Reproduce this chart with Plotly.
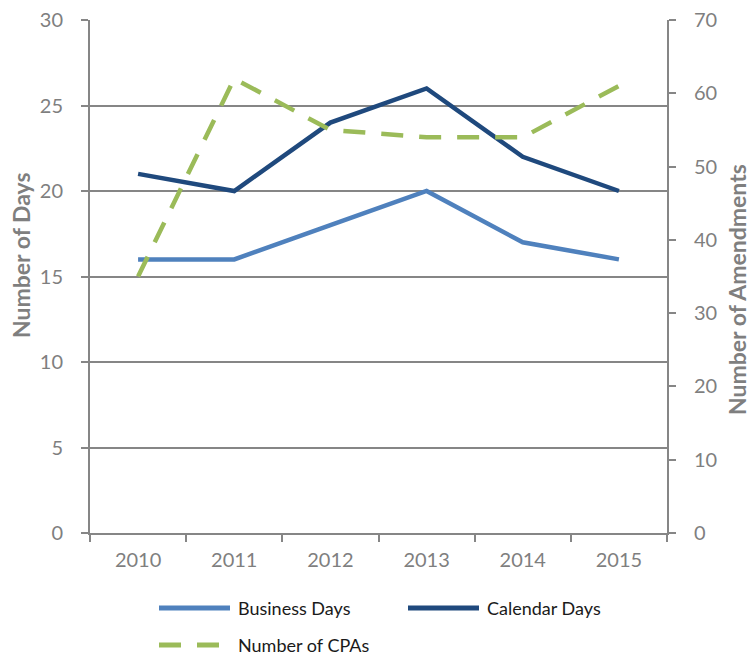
import plotly.graph_objects as go

years = ["2010", "2011", "2012", "2013", "2014", "2015"]
business_days = [16, 16, 18, 20, 17, 16]
calendar_days = [21, 20, 24, 26, 22, 20]
number_of_cpas = [35, 62, 55, 54, 54, 61]

FONT = "Lato, 'Open Sans', sans-serif"
GREY = "#868686"
TICK_GREY = "#7f7f7f"

W, H = 754, 658
L, R, T, B = 90, 87, 20, 125
PW, PH = W - L - R, H - T - B


def px_x(x):
    return (x - L) / PW


def px_y(y):
    return (H - B - y) / PH


series = [
    dict(name="Business Days", y=business_days, color="#4F81BD", dash="solid", axis="y"),
    dict(name="Calendar Days", y=calendar_days, color="#1F497D", dash="solid", axis="y"),
    dict(name="Number of CPAs", y=number_of_cpas, color="#9BBB59", dash="22px,16px", axis="y2"),
]

fig = go.Figure()
for s in series:
    fig.add_trace(go.Scatter(
        x=years, y=s["y"], name=s["name"], mode="lines", yaxis=s["axis"],
        line=dict(color=s["color"], width=4.5, dash=s["dash"]),
        showlegend=False,
    ))

# legend laid out as in the report: two per row, long line samples
legend_slots = [(159, 608), (408, 608), (159, 645)]
shapes, annotations = [], []
for s, (lx, ly) in zip(series, legend_slots):
    shapes.append(dict(
        type="line", xref="paper", yref="paper",
        x0=px_x(lx), x1=px_x(lx + 71), y0=px_y(ly), y1=px_y(ly),
        line=dict(color=s["color"], width=5, dash=s["dash"]),
    ))
    annotations.append(dict(
        text=s["name"], xref="paper", yref="paper",
        x=px_x(lx + 77), y=px_y(ly), xanchor="left", yanchor="middle",
        showarrow=False, font=dict(family=FONT, size=18, color="#1a1a1a"),
    ))

annotations += [
    dict(text="<b>Number of Days</b>", xref="paper", yref="paper",
         x=px_x(21), y=px_y(255), xanchor="center", yanchor="middle", textangle=-90,
         showarrow=False, font=dict(family=FONT, size=23, color=TICK_GREY)),
    dict(text="<b>Number of Amendments</b>", xref="paper", yref="paper",
         x=px_x(737), y=px_y(290), xanchor="center", yanchor="middle", textangle=-90,
         showarrow=False, font=dict(family=FONT, size=23, color=TICK_GREY)),
]

fig.update_layout(
    width=W, height=H,
    margin=dict(l=L, r=R, t=T, b=B, autoexpand=False),
    paper_bgcolor="white", plot_bgcolor="white",
    font=dict(family=FONT, size=20, color=TICK_GREY),
    showlegend=False,
    xaxis=dict(
        type="category", range=[-0.5, 5.5],
        showline=True, linecolor=GREY, linewidth=2,
        ticks="outside", tickson="boundaries", ticklen=7, tickcolor=GREY, tickwidth=2,
        showgrid=False, tickfont=dict(size=20, color=TICK_GREY),
        ticklabelstandoff=8,
    ),
    yaxis=dict(
        range=[0, 30], dtick=5, tick0=0,
        showline=True, linecolor=GREY, linewidth=2,
        ticks="outside", ticklen=7, tickcolor=GREY, tickwidth=2,
        showgrid=True, gridcolor=GREY, gridwidth=1.5,
        zeroline=False, tickfont=dict(size=20, color=TICK_GREY),
        ticklabelstandoff=14,
    ),
    yaxis2=dict(
        range=[0, 70], dtick=10, tick0=0, overlaying="y", side="right",
        showline=True, linecolor=GREY, linewidth=2,
        ticks="outside", ticklen=7, tickcolor=GREY, tickwidth=2,
        showgrid=False, zeroline=False, tickfont=dict(size=20, color=TICK_GREY),
        ticklabelstandoff=14,
    ),
    shapes=shapes,
    annotations=annotations,
)

fig.write_html("out.html")
